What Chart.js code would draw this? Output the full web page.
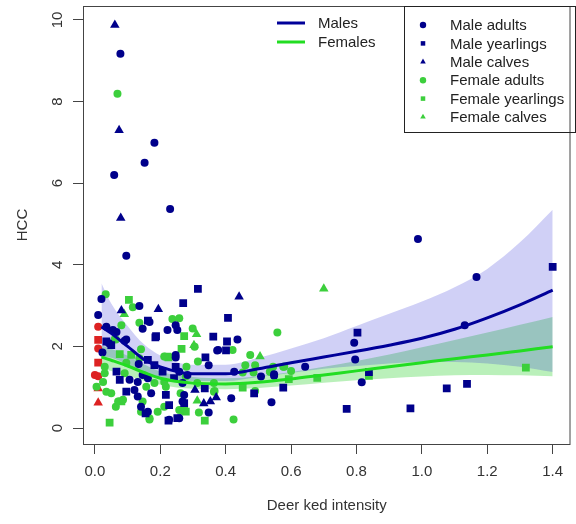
<!DOCTYPE html>
<html>
<head>
<meta charset="utf-8">
<script src="https://cdn.jsdelivr.net/npm/chart.js@4/dist/chart.umd.min.js"></script>
<style>
  body { margin: 0; background: #fff; }
  canvas { display: block; }
</style>
</head>
<body>
<canvas id="hccChart" width="576" height="524"></canvas>
<script>
// tick labels
const xTicks = [0, 0.2, 0.4, 0.6, 0.8, 1.0, 1.2, 1.4];
const yTicks = [0, 2, 4, 6, 8, 10];

// points: [ked intensity, HCC]
const maleAdults = [[0.078,9.17],[0.182,6.99],[0.152,6.5],[0.059,6.2],[0.23,5.37],[0.096,4.22],[0.988,4.63],[1.167,3.7],
  [0.793,2.09],[0.796,1.68],[0.643,1.5],[0.816,1.12],[0.548,1.28],[0.54,0.63],[1.131,2.52],[0.02,3.16],[0.01,2.77],
  [0.136,2.99],[0.146,2.43],[0.247,2.52],[0.222,2.4],[0.252,2.4],[0.096,2.17],[0.436,2.17],[0.377,1.91],[0.348,1.54],
  [0.247,1.73],[0.508,1.26],[0.417,0.73],[0.348,0.38],[0.258,0.24],[0.374,1.9],[0.426,1.38],[0.548,1.32],[0.283,1.3],
  [0.023,1.85],[0.134,1.57],[0.247,1.79],[0.258,1.38],[0.106,1.18],[0.131,1.13],[0.162,1.22],[0.121,0.93],[0.172,0.85],
  [0.131,0.77],[0.141,0.52],[0.162,0.4],[0.227,0.2],[0.268,1.1],[0.268,0.65],[0.146,1.3],[0.035,2.48],[0.055,2.4],
  [0.066,2.35],[0.091,2.14],[0.167,2.6],[0.043,2.08],[0.273,0.81]];
const maleYearlings = [[1.40,3.95],[0.803,2.34],[0.838,1.37],[0.576,0.99],[0.77,0.47],[0.965,0.48],[1.076,0.97],[1.138,1.08],
  [0.27,3.06],[0.162,2.63],[0.187,2.25],[0.315,3.41],[0.407,2.7],[0.362,2.24],[0.404,2.12],[0.338,1.73],[0.336,0.97],
  [0.225,0.18],[0.155,0.36],[0.401,1.9],[0.487,0.85],[0.273,0.61],[0.05,2.03],[0.066,1.38],[0.076,1.18],[0.162,1.67],
  [0.182,1.54],[0.247,1.5],[0.207,1.38],[0.096,0.89],[0.217,0.81],[0.227,0.56],[0.252,0.24],[0.242,1.22],[0.035,2.12],[0.185,2.22]];
const maleCalves = [[0.061,9.88],[0.074,7.3],[0.079,5.15],[0.081,2.88],[0.194,2.91],[0.441,3.22],[0.306,0.93],[0.333,0.6],
  [0.371,0.75],[0.353,0.65]];
const femaleAdults = [[0.069,8.19],[0.558,2.34],[0.579,1.5],[0.538,1.38],[0.033,3.28],[0.116,2.96],[0.136,2.58],[0.081,2.52],
  [0.237,2.67],[0.258,2.69],[0.064,2.17],[0.299,2.44],[0.421,1.91],[0.305,1.99],[0.141,1.93],[0.315,1.63],[0.28,1.5],
  [0.475,1.79],[0.364,0.89],[0.424,0.21],[0.167,0.21],[0.192,0.4],[0.46,1.54],[0.49,1.54],[0.545,1.5],[0.576,1.5],
  [0.452,1.36],[0.485,1.36],[0.535,1.38],[0.6,1.4],[0.313,1.1],[0.364,1.1],[0.49,0.91],[0.366,0.91],[0.318,0.38],
  [0.03,1.5],[0.03,1.34],[0.025,1.13],[0.005,1.01],[0.035,0.89],[0.05,0.85],[0.064,0.52],[0.136,1.71],[0.096,1.6],
  [0.212,1.75],[0.091,1.34],[0.157,1.01],[0.182,1.1],[0.212,1.13],[0.071,0.65],[0.086,0.69],[0.146,0.65],[0.141,0.4],
  [0.167,0.24],[0.212,0.52],[0.258,0.44],[0.262,0.85],[0.278,1.26],[0.217,1.01],[0.061,2.18]];
const femaleYearlings = [[0.838,1.28],[0.68,1.23],[0.593,1.2],[1.318,1.48],[0.104,3.14],[0.273,2.25],[0.265,1.94],[0.225,1.73],
  [0.273,0.42],[0.336,0.18],[0.045,0.13],[0.452,0.99],[0.278,0.4],[0.081,0.65],[0.076,1.81],[0.111,1.79],[0.222,1.75]];
const femaleCalves = [[0.70,3.41],[0.09,2.79],[0.311,2.3],[0.505,1.75],[0.303,2.03],[0.313,0.67]];
// red points at zero intensity (not in the legend)
const zeroCircles = [[0.01,2.48],[0.01,1.95],[0.0,1.3],[0.01,1.27]];
const zeroSquares = [[0.01,2.16],[0.01,1.6]];
const zeroTriangles = [[0.01,0.97],[0.01,0.62]];

// fitted curves and confidence bands
const fitX       = [0.02, 0.05, 0.1, 0.15, 0.2, 0.3, 0.4, 0.5, 0.6, 0.7, 0.8, 0.9, 1.0, 1.1, 1.2, 1.3, 1.4];
const maleFit    = [2.48, 2.32, 2.0, 1.68, 1.5, 1.33, 1.33, 1.45, 1.6, 1.74, 1.88, 2.03, 2.2, 2.42, 2.7, 3.02, 3.38];
const maleUpper  = [3.55, 3.05, 2.5, 2.05, 1.78, 1.55, 1.55, 1.72, 1.95, 2.2, 2.5, 2.8, 3.1, 3.45, 3.9, 4.55, 5.35];
const maleLower  = [1.75, 1.72, 1.55, 1.35, 1.25, 1.15, 1.15, 1.25, 1.35, 1.45, 1.52, 1.58, 1.62, 1.62, 1.58, 1.5, 1.37];
const femaleFit  = [1.74, 1.66, 1.52, 1.36, 1.22, 1.1, 1.08, 1.12, 1.2, 1.3, 1.4, 1.5, 1.6, 1.7, 1.79, 1.89, 1.99];
const femaleUpper= [2.02, 1.94, 1.77, 1.56, 1.38, 1.25, 1.22, 1.27, 1.37, 1.5, 1.64, 1.8, 1.98, 2.16, 2.34, 2.53, 2.72];
const femaleLower= [1.46, 1.4, 1.28, 1.16, 1.06, 0.96, 0.95, 0.98, 1.04, 1.11, 1.17, 1.22, 1.26, 1.29, 1.3, 1.29, 1.27];

const NAVY = '#00008b';
const GREEN = '#3ccf3c';
const LINE_GREEN = '#22dd22';
const RED = '#dd2222';
const FONT = '"Liberation Sans", Arial, sans-serif';

function pts(arr) { return arr.map(p => ({x: p[0], y: p[1]})); }
function curve(ys) { return fitX.map((x, i) => ({x: x, y: ys[i]})); }

function pointSet(label, arr, color, style, r) {
    return {
        label: label, data: pts(arr), backgroundColor: color, borderColor: color,
        pointStyle: style, pointRadius: r, pointBorderWidth: 0, showLine: false, order: 5
    };
}
function band(arr, fill, color) {
    return {
        label: '', data: curve(arr), showLine: true, borderWidth: 0, pointRadius: 0,
        fill: fill, backgroundColor: color, cubicInterpolationMode: 'monotone', order: 10
    };
}
function fitLine(label, arr, color, w) {
    return {
        label: label, data: curve(arr), showLine: true, borderColor: color, borderWidth: w,
        pointRadius: 0, fill: false, cubicInterpolationMode: 'monotone', order: 1
    };
}

const datasets = [
    band(maleUpper, '+1', 'rgba(20,20,210,0.2)'),
    band(maleLower, false, 'rgba(20,20,210,0.2)'),
    band(femaleUpper, '+1', 'rgba(0,200,0,0.27)'),
    band(femaleLower, false, 'rgba(0,200,0,0.27)'),
    pointSet('Male adults', maleAdults, NAVY, 'circle', 4),
    pointSet('Male yearlings', maleYearlings, NAVY, 'rect', 5.5),
    pointSet('Male calves', maleCalves, NAVY, 'triangle', 5.5),
    pointSet('Female adults', femaleAdults, GREEN, 'circle', 4),
    pointSet('Female yearlings', femaleYearlings, GREEN, 'rect', 5.5),
    pointSet('Female calves', femaleCalves, GREEN, 'triangle', 5.5),
    pointSet('', zeroCircles, RED, 'circle', 4),
    pointSet('', zeroSquares, RED, 'rect', 5.5),
    pointSet('', zeroTriangles, RED, 'triangle', 5.5),
    fitLine('Males', maleFit, '#000099', 3),
    fitLine('Females', femaleFit, LINE_GREEN, 3)
];

// box round the plot, rotated y labels, and the two legends
const extras = {
    id: 'extras',
    afterDraw(chart) {
        const ctx = chart.ctx;
        const a = chart.chartArea;
        ctx.save();
        ctx.strokeStyle = '#444';
        ctx.lineWidth = 1;
        ctx.strokeRect(a.left + 0.5, a.top + 0.5, a.right - a.left - 1, a.bottom - a.top);

        // y tick labels, read bottom to top like R
        const ys = chart.scales.y;
        ctx.fillStyle = '#333';
        ctx.font = '15px ' + FONT;
        ctx.textAlign = 'center';
        ctx.textBaseline = 'middle';
        yTicks.forEach(v => {
            ctx.save();
            ctx.translate(58, ys.getPixelForValue(v));
            ctx.rotate(-Math.PI / 2);
            ctx.fillText(String(v), 0, 0);
            ctx.restore();
        });

        // line legend
        ctx.font = '15px ' + FONT;
        ctx.textAlign = 'left';
        const lineRows = [['Males', '#000099', 23], ['Females', LINE_GREEN, 42]];
        lineRows.forEach(r => {
            ctx.strokeStyle = r[1];
            ctx.lineWidth = 3;
            ctx.beginPath();
            ctx.moveTo(277, r[2]);
            ctx.lineTo(305, r[2]);
            ctx.stroke();
            ctx.fillStyle = '#222';
            ctx.fillText(r[0], 318, r[2] + 1);
        });

        // point legend box
        ctx.strokeStyle = '#222';
        ctx.lineWidth = 1;
        ctx.strokeRect(404.5, a.top + 0.5, 575 - 404, 126);
        const rows = chart.data.datasets.slice(4, 10);
        rows.forEach((ds, i) => {
            const y = 25 + i * 18.4;
            ctx.fillStyle = ds.backgroundColor;
            Chart.helpers.drawPoint(ctx, {pointStyle: ds.pointStyle, radius: 3.2, borderWidth: 0, rotation: 0}, 423, y);
            ctx.fillStyle = '#222';
            ctx.fillText(ds.label, 450, y + 1);
        });
        ctx.restore();
    }
};

new Chart(document.getElementById('hccChart').getContext('2d'), {
    type: 'scatter',
    data: { datasets: datasets },
    options: {
        responsive: false,
        animation: false,
        devicePixelRatio: 1,
        layout: { padding: { top: 6, right: 1, left: 0, bottom: 0 } },
        plugins: { legend: { display: false }, tooltip: { enabled: false } },
        scales: {
            x: {
                type: 'linear',
                min: -0.0364, max: 1.4545,
                afterBuildTicks: s => { s.ticks = xTicks.map(v => ({value: v})); },
                afterFit: s => { s.height = 80; },
                grid: { drawOnChartArea: false, drawTicks: true, tickLength: 10, tickColor: '#444' },
                border: { display: false },
                ticks: {
                    color: '#333', padding: 9, maxRotation: 0,
                    font: { family: FONT, size: 15 },
                    callback: v => v.toFixed(1)
                },
                title: {
                    display: true, text: 'Deer ked intensity', color: '#333',
                    font: { family: FONT, size: 15 },
                    padding: { top: 0, bottom: 9 }
                }
            },
            y: {
                type: 'linear',
                min: -0.392, max: 10.343,
                afterBuildTicks: s => { s.ticks = yTicks.map(v => ({value: v})); },
                afterFit: s => { s.width = 83; },
                grid: { drawOnChartArea: false, drawTicks: true, tickLength: 10, tickColor: '#444' },
                border: { display: false },
                ticks: { display: false },
                title: {
                    display: true, text: 'HCC', color: '#333',
                    font: { family: FONT, size: 15 },
                    padding: { top: 14, bottom: 0 }
                }
            }
        }
    },
    plugins: [extras]
});
</script>
</body>
</html>
